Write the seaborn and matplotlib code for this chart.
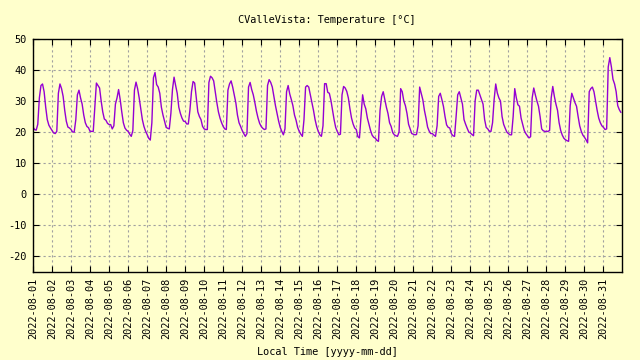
import numpy as np
import pandas as pd
import matplotlib
matplotlib.use("Agg")
import matplotlib.pyplot as plt
import matplotlib.dates as mdates
import seaborn as sns

# ─────────────────────────────────────────────
# Data — readings every 2 hours
# ─────────────────────────────────────────────

START_DAY = "2022-08-01"
HOURS = [0, 2, 4, 6, 8, 10, 12, 14, 16, 18, 20, 22]

# one row per day (Aug 1 .. Aug 31), °C
TEMPS = [
    [21.6, 20.8, 20.6, 22.5, 31.0, 35.0, 35.5, 33.0, 28.0, 24.0, 22.2, 21.3],
    [20.5, 19.7, 19.5, 20.2, 32.5, 35.5, 34.0, 31.5, 27.0, 23.5, 21.6, 21.3],
    [20.8, 20.0, 20.0, 24.0, 32.0, 33.5, 31.0, 29.0, 25.5, 23.0, 21.8, 21.4],
    [20.2, 20.2, 20.2, 28.0, 35.8, 35.0, 34.2, 30.0, 26.5, 24.2, 23.8, 22.8],
    [22.4, 22.4, 21.0, 22.0, 29.0, 31.0, 33.7, 30.5, 26.5, 23.0, 21.3, 20.6],
    [20.2, 19.3, 18.6, 20.5, 33.5, 36.1, 34.0, 31.0, 27.5, 24.0, 21.8, 20.3],
    [19.2, 18.0, 17.4, 23.0, 37.5, 39.2, 35.3, 34.5, 32.5, 28.0, 25.5, 23.5],
    [21.5, 21.2, 21.0, 26.0, 33.7, 37.7, 35.0, 32.5, 28.0, 26.0, 24.5, 23.5],
    [23.4, 22.6, 22.6, 27.0, 33.0, 36.3, 35.8, 31.0, 26.5, 25.0, 24.0, 21.8],
    [21.0, 20.8, 20.8, 36.0, 38.0, 37.5, 36.5, 33.0, 29.5, 26.5, 24.5, 23.0],
    [21.8, 21.0, 20.8, 33.5, 35.5, 36.5, 34.5, 32.0, 29.4, 25.5, 23.0, 21.8],
    [20.5, 19.5, 18.6, 19.5, 34.5, 36.0, 33.7, 32.0, 29.5, 26.7, 24.5, 22.8],
    [21.8, 21.2, 20.8, 21.0, 35.0, 36.9, 36.0, 34.5, 31.5, 28.5, 26.0, 23.5],
    [21.5, 20.2, 19.1, 21.0, 33.0, 35.0, 32.3, 30.5, 28.5, 25.5, 23.8, 21.5],
    [20.2, 19.3, 18.6, 24.0, 34.5, 35.0, 34.5, 32.0, 29.5, 27.0, 24.0, 21.8],
    [20.2, 19.1, 18.6, 22.0, 35.6, 35.6, 32.8, 32.5, 30.2, 27.0, 24.0, 21.5],
    [20.2, 19.1, 19.3, 32.0, 34.7, 34.2, 33.1, 31.0, 27.5, 24.5, 22.6, 21.3],
    [20.8, 18.5, 18.1, 25.0, 32.0, 29.0, 27.5, 24.5, 22.5, 20.5, 19.0, 18.3],
    [18.0, 17.3, 17.0, 27.0, 31.5, 33.0, 30.5, 28.0, 26.0, 23.0, 21.8, 19.8],
    [19.1, 18.8, 18.6, 20.0, 34.0, 33.0, 30.0, 28.5, 26.0, 22.5, 21.0, 19.5],
    [19.3, 19.1, 19.2, 22.0, 34.5, 32.5, 30.4, 27.0, 24.5, 21.6, 20.3, 19.5],
    [19.5, 19.0, 18.6, 22.0, 31.5, 32.5, 30.5, 28.3, 25.0, 22.3, 21.5, 21.3],
    [19.5, 18.8, 18.6, 25.0, 32.0, 33.0, 31.0, 29.0, 24.0, 22.5, 21.2, 20.0],
    [19.7, 19.2, 18.8, 30.0, 33.5, 33.5, 32.0, 30.5, 29.0, 24.0, 21.5, 21.0],
    [20.2, 20.2, 23.0, 30.5, 35.5, 32.6, 31.0, 30.0, 25.0, 22.5, 21.2, 20.0],
    [19.5, 19.1, 19.1, 25.0, 34.0, 31.0, 28.8, 28.3, 24.5, 22.5, 20.5, 19.5],
    [18.8, 18.1, 18.5, 31.0, 34.2, 32.0, 30.0, 28.3, 25.0, 21.0, 20.4, 20.2],
    [20.2, 20.2, 20.5, 31.0, 34.7, 31.5, 29.0, 27.0, 23.0, 20.5, 19.0, 18.0],
    [17.5, 17.2, 17.0, 28.5, 32.5, 31.0, 29.5, 28.3, 25.0, 22.0, 20.2, 19.0],
    [18.3, 17.5, 16.5, 33.0, 34.0, 34.5, 33.0, 30.0, 27.0, 24.5, 23.0, 22.0],
    [21.5, 20.8, 21.0, 41.0, 44.0, 41.0, 37.0, 35.5, 33.0, 28.5, 27.2, 26.3],
]

Y_TICKS = [-20, -10, 0, 10, 20, 30, 40, 50]

# ─────────────────────────────────────────────
# Build long table
# ─────────────────────────────────────────────

days = pd.date_range(START_DAY, periods=len(TEMPS), freq="D")
rows = []
for day, vals in zip(days, TEMPS):
    for h, v in zip(HOURS, vals):
        rows.append((day + pd.Timedelta(hours=h), v))
df = pd.DataFrame(rows, columns=["time", "temp"])

# ─────────────────────────────────────────────
# Style — gnuplot look
# ─────────────────────────────────────────────

BG = "#FFFFCC"
LINE = "#9400D3"

sns.set_theme(style="ticks")
plt.rcParams["font.family"] = ["DejaVu Sans Mono"]
plt.rcParams["axes.unicode_minus"] = False
plt.rcParams["text.color"] = "black"

fig = plt.figure(figsize=(6.4, 3.6), dpi=100, facecolor=BG)
ax = fig.add_axes([0.0516, 0.2458, 0.9198, 0.6458], facecolor=BG)

sns.lineplot(data=df, x="time", y="temp", color=LINE, linewidth=1.0, ax=ax)

ax.set_ylim(-25, 50)
ax.set_yticks(Y_TICKS)
ax.set_xlim(days[0], days[-1] + pd.Timedelta(hours=23))
ax.xaxis.set_major_locator(mdates.DayLocator())
ax.xaxis.set_major_formatter(mdates.DateFormatter("%Y-%m-%d"))

ax.grid(True, color="#a0a0a0", linestyle=(0, (2, 2.5)), linewidth=0.8)
for s in ax.spines.values():
    s.set_visible(True)
    s.set_color("black")
    s.set_linewidth(1.0)

ax.tick_params(direction="in", length=4.5, width=0.8, colors="black",
               labelcolor="black", top=True, right=True,
               labelsize=7.4, pad=4.5)
plt.setp(ax.get_xticklabels(), rotation=90)

ax.set_xlabel("")
ax.set_ylabel("")
fig.text(0.511, 0.944, "CValleVista: Temperature [°C]",
         ha="center", va="center", fontsize=7.4, color="black")
fig.text(0.511, 0.022, "Local Time [yyyy-mm-dd]",
         ha="center", va="center", fontsize=7.4, color="black")

fig.savefig("out.png", dpi=100, facecolor=BG)
